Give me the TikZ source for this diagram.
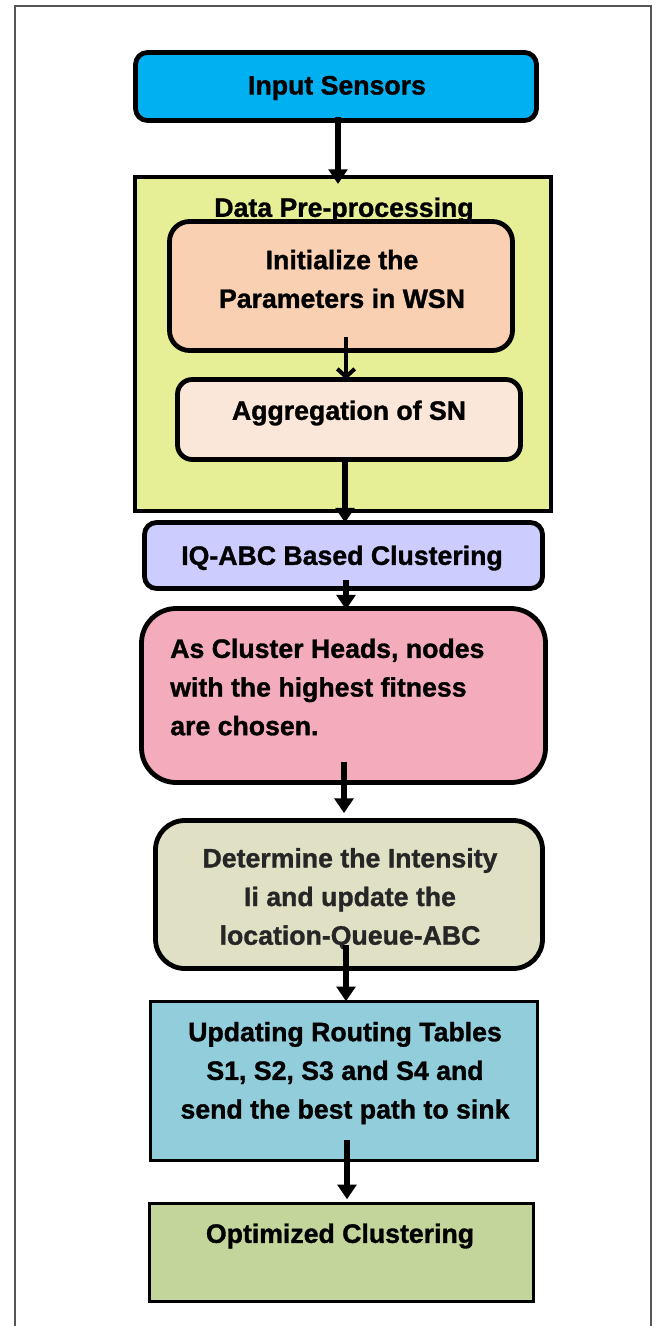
\documentclass[tikz,border=0pt]{standalone}
\usepackage{fontspec}
\setmainfont{Liberation Sans}[BoldFeatures={FakeBold=1.2}]
\usetikzlibrary{arrows.meta}
\definecolor{cInput}{HTML}{00B0F0}
\definecolor{cData}{HTML}{E6EF96}
\definecolor{cInit}{HTML}{F9D0B1}
\definecolor{cAgg}{HTML}{FBE7D9}
\definecolor{cIQ}{HTML}{CCCCFF}
\definecolor{cPink}{HTML}{F4ACBC}
\definecolor{cDet}{HTML}{E0E1C4}
\definecolor{cUpd}{HTML}{92CDDC}
\definecolor{cOpt}{HTML}{C3D59B}
\definecolor{cFrame}{HTML}{555555}
\definecolor{cDark}{HTML}{262626}
\tikzset{
  box/.style={draw=black, line width=3.6pt, inner sep=0pt},
  sqbox/.style={draw=black, line width=2.6pt, inner sep=0pt},
  lbl/.style={font=\fontsize{20}{29}\selectfont\bfseries, align=center, inner sep=0pt},
  arr/.style={line width=3.9pt, -{Triangle[width=14pt,length=11pt]}},
  barb/.style={line width=3.4pt, -{Straight Barb[width=13pt,length=6pt,line width=3pt]}}
}
\begin{document}
\begin{tikzpicture}[x=0.75pt,y=-0.75pt]
\useasboundingbox (0,0) rectangle (656,1326);
\fill[white] (0,0) rectangle (656,1326);
\draw[cFrame, line width=1.3pt] (15,1340) -- (15,6) -- (651,6) -- (651,1340);

% boxes
\node[box, fill=cInput, rounded corners=9pt, minimum width=0.75*401pt, minimum height=0.75*68pt] (inp) at (336,86.5) {};
\node[lbl] (inpT) at (337,88) {Input Sensors};

\node[sqbox, line width=3pt, fill=cData, minimum width=0.75*416pt, minimum height=0.75*334pt] (dp) at (343,344) {};
\node[lbl] (dpT) at (344,210) {Data Pre-processing};

\node[box, fill=cInit, rounded corners=15pt, minimum width=0.75*343pt, minimum height=0.75*129pt] (init) at (341,286) {};
\node[lbl] (initT) at (342,279) {Initialize the\\Parameters in WSN};

\node[box, fill=cAgg, rounded corners=11pt, minimum width=0.75*343pt, minimum height=0.75*80pt] (agg) at (349,419.5) {};
\node[lbl] (aggT) at (349,413) {Aggregation of SN};

\node[box, fill=cIQ, rounded corners=9pt, minimum width=0.75*398pt, minimum height=0.75*66pt] (iq) at (343.5,555.5) {};
\node[lbl] (iqT) at (342,558) {IQ-ABC Based Clustering};

\node[box, fill=cPink, rounded corners=26pt, minimum width=0.75*404pt, minimum height=0.75*174pt] (pink) at (343.5,695.5) {};
\node[lbl, align=left, anchor=west] (pinkT) at (170,687) {As Cluster Heads, nodes\\with the highest fitness\\are chosen.};

\node[box, fill=cDet, rounded corners=22pt, minimum width=0.75*387pt, minimum height=0.75*148pt] (det) at (349,894.5) {};
\node[lbl, text=cDark] (detT) at (350,899) {Determine the Intensity\\Ii and update the\\location-Queue-ABC};

\node[sqbox, fill=cUpd, minimum width=0.75*387pt, minimum height=0.75*159pt] (upd) at (344,1081) {};
\node[lbl] (updT) at (345,1073) {Updating Routing Tables\\S1, S2, S3 and S4 and\\send the best path to sink};

\node[sqbox, fill=cOpt, minimum width=0.75*384pt, minimum height=0.75*98pt] (opt) at (341.5,1252.5) {};
\node[lbl] (optT) at (340,1236) {Optimized Clustering};

% connectors
\draw[arr] ([shift={(2,-5.5)}]inp.south) -- ([shift={(-5,9)}]dp.north);
\draw[barb] ([shift={(5,-15.5)}]init.south) -- ([shift={(-3,2.5)}]agg.north);
\draw[arr] ([shift={(-4,-4.5)}]agg.south) -- ([shift={(1.5,2.5)}]iq.north);
\draw[arr] ([shift={(2.5,-10.5)}]iq.south) -- ([shift={(2.5,3.5)}]pink.north);
\draw[arr] ([shift={(0.5,-22.5)}]pink.south) -- ([shift={(-5,-5)}]det.north);
\draw[arr] ([shift={(-3,-25.5)}]det.south) -- ([shift={(2,1.5)}]upd.north);
\draw[arr] ([shift={(3,-22.5)}]upd.south) -- ([shift={(5.5,-2.5)}]opt.north);
\end{tikzpicture}
\end{document}
